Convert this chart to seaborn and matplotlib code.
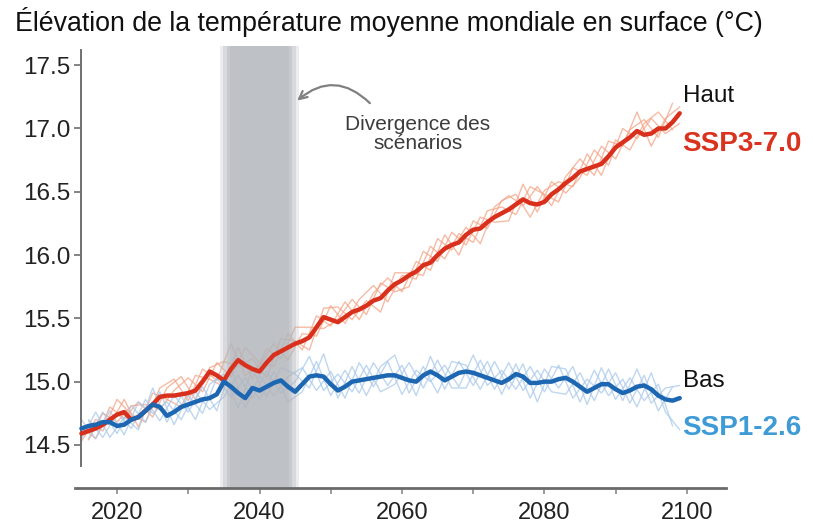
import numpy as np
import pandas as pd
import matplotlib
matplotlib.use("Agg")
import matplotlib.pyplot as plt
from matplotlib.ticker import MultipleLocator
import seaborn as sns

# annual means of the two scenarios, 2015-2099
years = list(range(2015, 2100))
ssp370 = [14.59, 14.61, 14.63, 14.66, 14.70, 14.74, 14.76, 14.70, 14.72, 14.77,
          14.82, 14.88, 14.89, 14.89, 14.90, 14.91, 14.93, 15.00, 15.08, 15.05,
          15.01, 15.10, 15.17, 15.13, 15.10, 15.08, 15.15, 15.21, 15.24, 15.27,
          15.30, 15.32, 15.35, 15.43, 15.51, 15.49, 15.47, 15.51, 15.55, 15.57,
          15.60, 15.64, 15.66, 15.72, 15.77, 15.80, 15.84, 15.87, 15.92, 15.94,
          16.00, 16.05, 16.08, 16.10, 16.16, 16.20, 16.21, 16.26, 16.30, 16.33,
          16.36, 16.40, 16.44, 16.41, 16.40, 16.42, 16.48, 16.52, 16.57, 16.61,
          16.66, 16.68, 16.70, 16.72, 16.78, 16.85, 16.89, 16.93, 16.98, 16.95,
          16.96, 17.00, 17.00, 17.05, 17.12]
ssp126 = [14.63, 14.65, 14.66, 14.68, 14.68, 14.65, 14.66, 14.70, 14.72, 14.77,
          14.82, 14.80, 14.73, 14.76, 14.80, 14.82, 14.84, 14.86, 14.87, 14.90,
          15.00, 14.96, 14.91, 14.87, 14.95, 14.93, 14.96, 14.99, 15.01, 14.96,
          14.92, 14.98, 15.04, 15.05, 15.04, 14.98, 14.93, 14.96, 15.00, 15.01,
          15.02, 15.03, 15.04, 15.05, 15.05, 15.03, 15.01, 15.00, 15.05, 15.08,
          15.05, 15.01, 15.04, 15.07, 15.08, 15.07, 15.05, 15.03, 15.01, 14.99,
          15.02, 15.06, 15.04, 14.99, 14.99, 15.00, 15.00, 15.02, 15.03, 15.00,
          14.96, 14.92, 14.95, 14.98, 14.98, 14.94, 14.91, 14.93, 14.96, 14.97,
          14.94, 14.89, 14.86, 14.85, 14.87]

# individual model runs (thin lines), read every two years
years_odd = list(range(2015, 2100, 2))
years_even = list(range(2016, 2099, 2))

red_run1 = [14.64, 14.55, 14.80, 14.71, 14.84, 14.72, 14.95, 15.04, 14.86, 15.11,
            15.16, 15.12, 15.18, 15.03, 15.34, 15.32, 15.25, 15.58, 15.59, 15.49,
            15.64, 15.55, 15.86, 15.86, 15.84, 16.13, 16.04, 16.22, 16.09, 16.38,
            16.47, 16.39, 16.54, 16.39, 16.62, 16.76, 16.63, 16.90, 16.86, 17.13,
            16.86, 17.08, 17.17]
red_run2 = [14.53, 14.70, 14.66, 14.86, 14.64, 14.91, 14.86, 14.80, 15.05, 15.02,
            14.96, 15.27, 15.02, 15.26, 15.18, 15.43, 15.43, 15.42, 15.49, 15.65,
            15.53, 15.78, 15.71, 15.75, 16.03, 15.95, 16.18, 16.08, 16.30, 16.26,
            16.27, 16.56, 16.34, 16.58, 16.49, 16.61, 16.83, 16.71, 17.00, 16.92,
            17.08, 16.96, 17.04]
red_run3 = [14.69, 14.61, 14.86, 14.74, 14.68, 14.95, 15.02, 14.85, 15.10, 15.01,
            15.30, 15.05, 15.13, 15.30, 15.17, 15.38, 15.36, 15.60, 15.46, 15.65,
            15.76, 15.63, 15.84, 15.81, 16.07, 15.97, 16.17, 16.10, 16.35, 16.38,
            16.32, 16.54, 16.48, 16.42, 16.69, 16.63, 16.86, 16.76, 16.99, 17.07,
            16.93, 17.20]
red_run4 = [14.54, 14.75, 14.68, 14.81, 14.82, 14.78, 14.93, 15.03, 14.92, 15.15,
            15.04, 15.27, 15.15, 15.12, 15.38, 15.25, 15.52, 15.44, 15.63, 15.49,
            15.70, 15.82, 15.71, 15.95, 15.88, 16.16, 16.00, 16.27, 16.21, 16.43,
            16.48, 16.30, 16.51, 16.58, 16.54, 16.80, 16.63, 16.91, 16.83, 17.04,
            17.13, 16.99]

blue_run1 = [14.55, 14.76, 14.56, 14.72, 14.62, 14.95, 14.68, 14.89, 14.70, 14.98,
             15.06, 14.79, 15.10, 14.88, 15.11, 15.06, 14.95, 15.22, 14.87, 15.12,
             14.89, 15.12, 15.21, 14.91, 15.12, 14.91, 15.16, 15.13, 14.94, 15.16,
             14.94, 15.14, 14.84, 15.12, 15.10, 14.84, 15.09, 14.89, 15.02, 14.80,
             15.07, 14.76, 14.62]
blue_run2 = [14.70, 14.55, 14.77, 14.58, 14.84, 14.75, 14.84, 14.70, 14.92, 14.78,
             14.88, 15.05, 14.87, 15.08, 14.91, 15.00, 15.20, 14.93, 15.06, 14.92,
             15.13, 14.92, 14.98, 15.15, 14.95, 15.17, 14.95, 14.95, 15.17, 14.94,
             15.15, 14.93, 15.09, 14.92, 14.90, 15.07, 14.85, 15.10, 14.85, 15.10,
             14.83, 14.95, 14.97]
blue_run3 = [14.70, 14.56, 14.75, 14.63, 14.86, 14.69, 14.89, 14.76, 14.96, 14.77,
             15.11, 14.79, 15.05, 14.89, 15.04, 15.11, 14.93, 15.08, 14.87, 15.15,
             14.96, 15.16, 14.90, 15.09, 15.00, 15.13, 14.96, 15.21, 14.97, 15.09,
             14.94, 15.12, 14.92, 15.13, 14.87, 15.02, 14.91, 15.07, 14.83, 15.05,
             14.77, 14.96]
blue_run4 = [14.55, 14.76, 14.59, 14.81, 14.68, 14.92, 14.66, 14.89, 14.75, 15.03,
             14.88, 15.03, 14.86, 15.08, 14.84, 14.92, 15.16, 14.89, 15.09, 14.91,
             15.15, 14.97, 15.13, 14.89, 15.20, 14.94, 15.16, 14.97, 15.16, 14.90,
             15.14, 14.87, 15.10, 14.95, 15.12, 14.82, 15.11, 14.86, 15.03, 14.85,
             14.98, 14.65]

y_ticks = [14.5, 15.0, 15.5, 16.0, 16.5, 17.0, 17.5]
x_ticks = [2020, 2040, 2060, 2080, 2100]

red_main = "#d8301c"
red_light = "#f3a486"
blue_main = "#1c66b2"
blue_light = "#a9c9ea"

sns.set_style("ticks")
plt.rcParams['font.family'] = ['Liberation Sans', 'DejaVu Sans']

fig = plt.figure(figsize=(8.13, 5.25), dpi=100)
ax = fig.add_axes([0.0923, 0.0705, 0.8007, 0.8415])

# thin runs
for run, yrs in [(red_run1, years_odd), (red_run2, years_odd),
                 (red_run3, years_even), (red_run4, years_even)]:
    sns.lineplot(x=yrs, y=run, color=red_light, lw=1.0, alpha=0.75, ax=ax, zorder=1)
for run, yrs in [(blue_run1, years_odd), (blue_run2, years_odd),
                 (blue_run3, years_even), (blue_run4, years_even)]:
    sns.lineplot(x=yrs, y=run, color=blue_light, lw=1.0, alpha=0.75, ax=ax, zorder=1)

# divergence band, stacked spans give soft edges
for lo, hi, a in [(2034.4, 2045.6, 0.25), (2034.9, 2045.1, 0.35),
                  (2035.4, 2044.6, 0.45), (2035.9, 2044.1, 0.4)]:
    ax.axvspan(lo, hi, color="#b3b6bc", alpha=a, lw=0, zorder=2)

df = pd.DataFrame({"year": years, "SSP3-7.0": ssp370, "SSP1-2.6": ssp126})
sns.lineplot(data=df, x="year", y="SSP3-7.0", color=red_main, lw=3.2, ax=ax, zorder=3)
sns.lineplot(data=df, x="year", y="SSP1-2.6", color=blue_main, lw=3.2, ax=ax, zorder=3)

ax.set_xlim(2014.1, 2105.5)
ax.set_ylim(14.16, 17.65)
ax.set_xticks(x_ticks)
ax.xaxis.set_minor_locator(MultipleLocator(10))
ax.set_yticks(y_ticks)
ax.set_yticklabels([f"{v:.1f}" for v in y_ticks])
ax.set_xlabel("")
ax.set_ylabel("")

for s in ["top", "right"]:
    ax.spines[s].set_visible(False)
ax.spines["left"].set_position(("data", 2015.0))
ax.spines["left"].set_bounds(14.33, 17.62)
ax.spines["left"].set_color("#707070")
ax.spines["left"].set_linewidth(1.4)
ax.spines["bottom"].set_color("#6a6a6a")
ax.spines["bottom"].set_linewidth(2.0)

ax.tick_params(axis="y", which="major", length=5, width=1.2, color="#707070",
               labelsize=17.5, labelcolor="#222222", pad=3)
ax.tick_params(axis="x", which="both", length=4, width=1.2, color="#8a8a8a",
               labelsize=17, labelcolor="#222222", pad=6)

# annotation
ax.text(2062.2, 16.955, "Divergence des\nscénarios", ha="center", va="center",
        fontsize=15, color="#3c3c3c", linespacing=1.0)
ax.annotate("", xy=(2045.3, 17.22), xytext=(2055.5, 17.20),
            arrowprops=dict(arrowstyle="->", color="#808080", lw=1.6,
                            connectionstyle="arc3,rad=0.45", mutation_scale=14,
                            shrinkA=0, shrinkB=0))

# end labels
ax.text(2099.4, 17.26, "Haut", ha="left", va="center", fontsize=17.5, color="#111111")
ax.text(2099.3, 16.88, "SSP3-7.0", ha="left", va="center", fontsize=20,
        fontweight="bold", color="#d9331f")
ax.text(2099.4, 15.005, "Bas", ha="left", va="center", fontsize=17.5, color="#111111")
ax.text(2099.3, 14.63, "SSP1-2.6", ha="left", va="center", fontsize=20,
        fontweight="bold", color="#3e9bd6")

fig.text(15 / 813, 1 - 22 / 525,
         "Élévation de la température moyenne mondiale en surface (°C)",
         ha="left", va="center", fontsize=19.3, color="#111111")

fig.savefig("out.png", dpi=100)
